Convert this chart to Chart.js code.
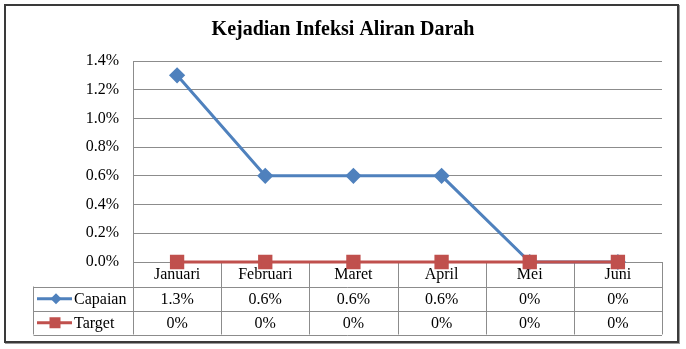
<!DOCTYPE html>
<html>
<head>
<meta charset="utf-8">
<script src="https://cdn.jsdelivr.net/npm/chart.js@4.4.1/dist/chart.umd.min.js"></script>
<style>
  html, body { margin: 0; padding: 0; background: #fff; }
  #wrap { position: relative; width: 686px; height: 349px; }
</style>
</head>
<body>
<div id="wrap"><canvas id="chart" width="686" height="349"></canvas></div>
<script>
// Data (in percent)
const months = ['Januari', 'Februari', 'Maret', 'April', 'Mei', 'Juni'];
const capaian = [1.3, 0.6, 0.6, 0.6, 0, 0];
const target = [0, 0, 0, 0, 0, 0];
const seriesNames = ['Capaian', 'Target'];
const seriesColors = ['#4F81BD', '#C0504D'];
const yTicks = [0, 0.2, 0.4, 0.6, 0.8, 1.0, 1.2, 1.4];

const FONT = "'Liberation Serif', 'Times New Roman', serif";
const GRID = '#8c8c8c';

function fmtCell(v) {
    return v === 0 ? '0%' : v.toFixed(1) + '%';
}

// Excel-style data table under the plot + outer frame
const dataTable = {
    id: 'dataTable',
    beforeDatasetsDraw(chart) {
        const ctx = chart.ctx;
        const area = chart.chartArea;
        const x = chart.scales.x;
        const step = (area.right - area.left) / months.length;
        const r0 = area.bottom, r1 = r0 + 24.5, r2 = r1 + 24.5, r3 = r2 + 23.5;
        const keyLeft = 33.5;

        ctx.save();
        ctx.strokeStyle = GRID;
        ctx.lineWidth = 1;
        ctx.beginPath();
        for (let i = 0; i <= months.length; i++) {
            const lx = Math.round(area.left + i * step) + 0.5;
            ctx.moveTo(lx, r0);
            ctx.lineTo(lx, r3);
        }
        ctx.moveTo(keyLeft, r1); ctx.lineTo(keyLeft, r3);
        [r1, r2, r3].forEach(function (ry) {
            const yy = Math.round(ry) + 0.5;
            ctx.moveTo(keyLeft, yy); ctx.lineTo(area.right, yy);
        });
        ctx.stroke();

        ctx.fillStyle = '#000';
        ctx.font = '16px ' + FONT;
        ctx.textAlign = 'center';
        ctx.textBaseline = 'middle';
        months.forEach(function (m, i) {
            const cx = x.getPixelForValue(i);
            ctx.fillText(m, cx, (r0 + r1) / 2 + 1);
            ctx.fillText(fmtCell(capaian[i]), cx, (r1 + r2) / 2 + 1);
            ctx.fillText(fmtCell(target[i]), cx, (r2 + r3) / 2 + 1);
        });

        // legend keys
        const rows = [(r1 + r2) / 2, (r2 + r3) / 2];
        rows.forEach(function (cy, k) {
            ctx.strokeStyle = seriesColors[k];
            ctx.fillStyle = seriesColors[k];
            ctx.lineWidth = 3;
            ctx.beginPath();
            ctx.moveTo(37, cy); ctx.lineTo(72, cy);
            ctx.stroke();
            ctx.beginPath();
            if (k === 0) {
                ctx.moveTo(56, cy - 5.5); ctx.lineTo(61.5, cy);
                ctx.lineTo(56, cy + 5.5); ctx.lineTo(50.5, cy);
                ctx.closePath();
            } else {
                ctx.rect(49.5, cy - 5.5, 11, 11);
            }
            ctx.fill();
            ctx.fillStyle = '#000';
            ctx.textAlign = 'left';
            ctx.fillText(seriesNames[k], 74, cy + 1);
        });
        ctx.restore();
    },
    afterDraw(chart) {
        const ctx = chart.ctx;
        ctx.save();
        ctx.strokeStyle = '#9a9a9a';
        ctx.lineWidth = 1;
        ctx.strokeRect(5.5, 5.5, 674, 338);
        ctx.strokeStyle = '#3a3a3a';
        ctx.lineWidth = 2;
        ctx.strokeRect(5, 5, 673, 337);
        ctx.restore();
    }
};

new Chart(document.getElementById('chart'), {
    type: 'line',
    data: {
        labels: months,
        datasets: [
            {
                label: seriesNames[0], data: capaian, order: 1,
                borderColor: seriesColors[0], backgroundColor: seriesColors[0],
                borderWidth: 3, pointStyle: 'rectRot', pointRadius: 6,
                tension: 0, clip: false
            },
            {
                label: seriesNames[1], data: target, order: 0,
                borderColor: seriesColors[1], backgroundColor: seriesColors[1],
                borderWidth: 3, pointStyle: 'rect', pointRadius: 8,
                tension: 0, clip: false
            }
        ]
    },
    options: {
        responsive: false,
        animation: false,
        layout: { padding: { left: 0, right: 0, top: 0, bottom: 87 } },
        plugins: {
            legend: { display: false },
            tooltip: { enabled: false },
            title: {
                display: true,
                text: 'Kejadian Infeksi Aliran Darah',
                color: '#000',
                font: { family: FONT, size: 20, weight: 'bold' },
                padding: { top: 18, bottom: 19 }
            }
        },
        scales: {
            x: {
                display: false,
                offset: true,
                grid: { display: false }
            },
            y: {
                min: 0, max: 1.4,
                afterBuildTicks: function (s) { s.ticks = yTicks.map(function (v) { return { value: v }; }); },
                afterFit: function (s) { s.width = 133; },
                ticks: {
                    color: '#000',
                    padding: 14,
                    font: { family: FONT, size: 16 },
                    callback: function (v) { return Number(v).toFixed(1) + '%'; }
                },
                grid: { color: GRID, drawTicks: false },
                border: { color: GRID }
            },
            // empty right margin so the title stays centred on the whole frame
            yRight: {
                position: 'right',
                min: 0, max: 1.4,
                afterFit: function (s) { s.width = 24; },
                ticks: { display: false },
                grid: { display: false, drawTicks: false },
                border: { display: false }
            }
        }
    },
    plugins: [dataTable]
});
</script>
</body>
</html>
